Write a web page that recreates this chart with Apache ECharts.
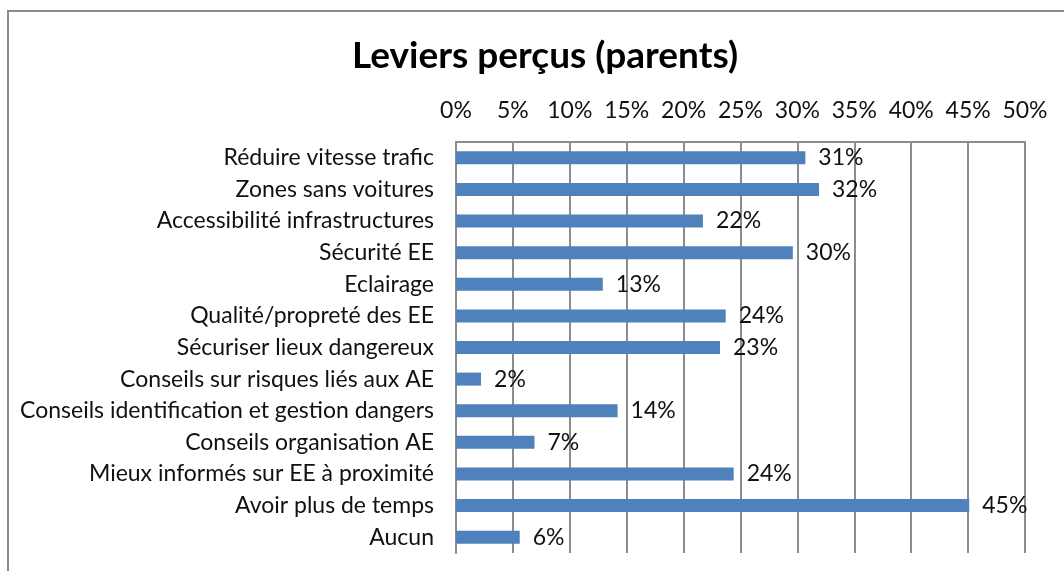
<!DOCTYPE html>
<html>
<head>
<meta charset="utf-8">
<script src="https://cdn.jsdelivr.net/npm/echarts@6/dist/echarts.min.js"></script>
<style>
  html, body { margin: 0; padding: 0; background: #fff; }
  #chart { width: 1064px; height: 571px; }
</style>
</head>
<body>
<div id="chart"></div>
<script>
// leviers, top to bottom as in the picture
const categories = [
  'Réduire vitesse trafic',
  'Zones sans voitures',
  'Accessibilité infrastructures',
  'Sécurité EE',
  'Eclairage',
  'Qualité/propreté des EE',
  'Sécuriser lieux dangereux',
  'Conseils sur risques liés aux AE',
  'Conseils identification et gestion dangers',
  'Conseils organisation AE',
  'Mieux informés sur EE à proximité',
  'Avoir plus de temps',
  'Aucun'
]
// percent of parents
const values = [30.7, 31.9, 21.7, 29.6, 12.9, 23.7, 23.2, 2.2, 14.2, 6.9, 24.4, 45.1, 5.6]
const axisTicks = [0, 5, 10, 15, 20, 25, 30, 35, 40, 45, 50]

const font = 'Lato, "Noto Sans", sans-serif'
const gridColor = '#8c8c8c'

const chart = echarts.init(document.getElementById('chart'))
chart.setOption({
  animation: false,
  title: {
    text: 'Leviers perçus (parents)',
    left: 347,
    top: 33,
    textStyle: { fontFamily: font, fontSize: 37, fontWeight: 'bold', color: '#000' }
  },
  graphic: [{
    type: 'rect',
    shape: { x: 8, y: 11, width: 1120, height: 620 },
    style: { fill: 'none', stroke: '#8a8a8a', lineWidth: 2 },
    silent: true
  }],
  grid: { left: 456, right: 39, top: 142, bottom: 18 },
  xAxis: {
    type: 'value',
    position: 'top',
    min: axisTicks[0],
    max: axisTicks[axisTicks.length - 1],
    interval: axisTicks[1] - axisTicks[0],
    axisLine: { show: true, lineStyle: { color: gridColor, width: 2 } },
    axisTick: { show: false },
    splitLine: { show: true, lineStyle: { color: gridColor, width: 2 } },
    axisLabel: {
      formatter: '{value}%',
      fontFamily: font,
      fontSize: 23,
      color: '#111',
      margin: 20
    }
  },
  yAxis: {
    type: 'category',
    data: categories,
    inverse: true,
    axisLine: { show: true, lineStyle: { color: gridColor, width: 2 } },
    axisTick: { show: false },
    axisLabel: { fontFamily: font, fontSize: 23, color: '#111', margin: 22 }
  },
  series: [{
    type: 'bar',
    data: values,
    barWidth: 13,
    itemStyle: { color: '#4f81bd' },
    label: {
      show: true,
      position: 'right',
      distance: 13,
      formatter: p => Math.round(p.value) + '%',
      fontFamily: font,
      fontSize: 23,
      color: '#111'
    }
  }]
})
</script>
</body>
</html>
